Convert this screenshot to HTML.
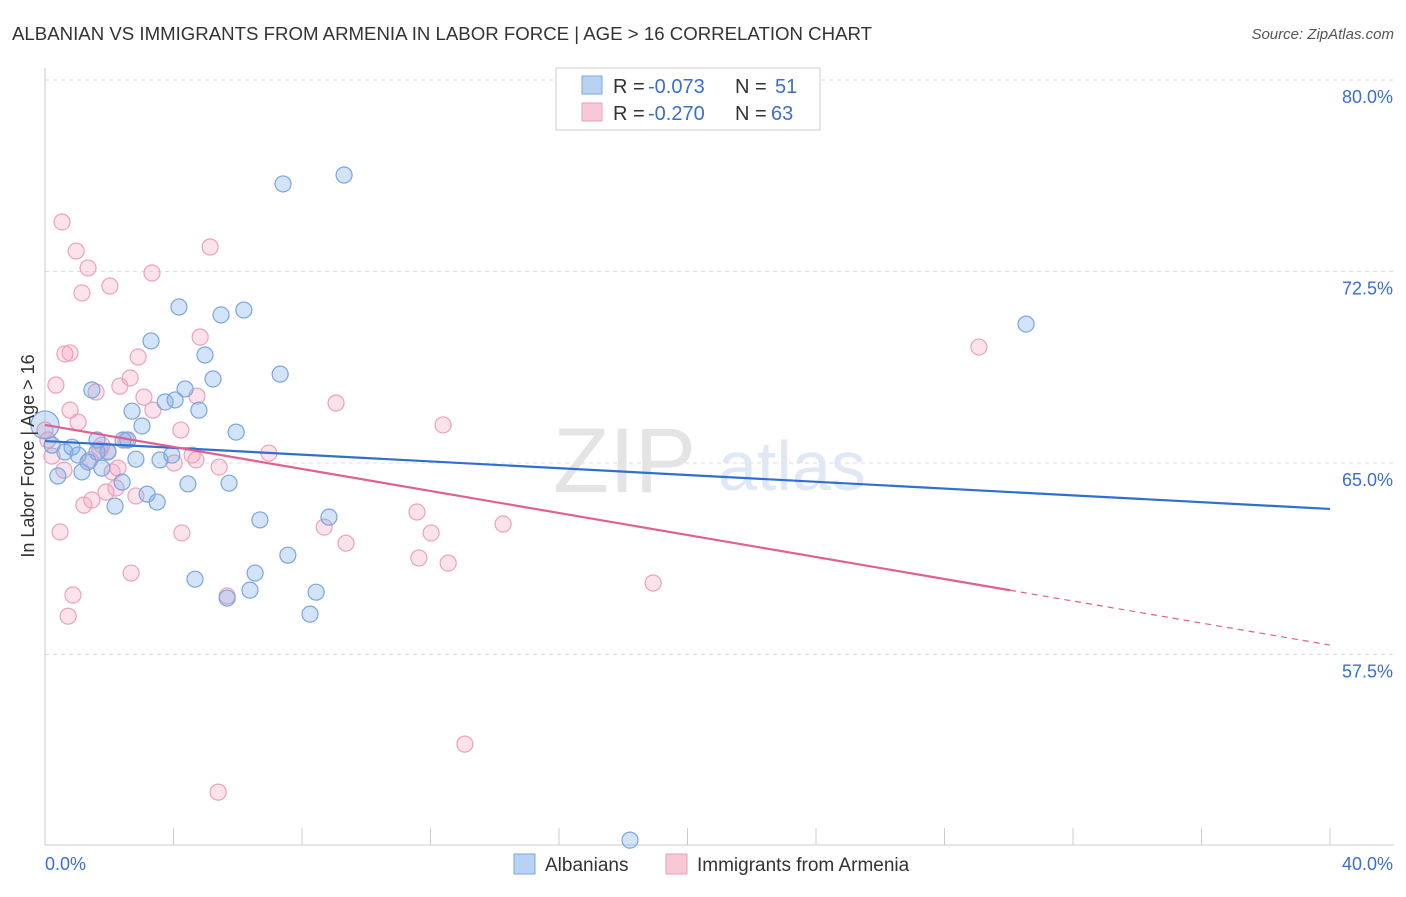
<!DOCTYPE html>
<html><head><meta charset="utf-8">
<style>
body{margin:0;background:#fff;font-family:"Liberation Sans",sans-serif;}
svg text{font-family:"Liberation Sans",sans-serif;}
</style></head>
<body>
<svg width="1406" height="892" viewBox="0 0 1406 892">
<text x="12" y="40" font-size="18" fill="#333" textLength="860" lengthAdjust="spacingAndGlyphs">ALBANIAN VS IMMIGRANTS FROM ARMENIA IN LABOR FORCE | AGE &gt; 16 CORRELATION CHART</text>
<text x="1394" y="39" font-size="15" fill="#555" font-style="italic" text-anchor="end">Source: ZipAtlas.com</text>
<g id="grid"></g>
<g id="axes"></g>
<text x="553" y="492" font-size="92" fill="#e4e4e4" font-family="Liberation Serif">ZIP</text>
<text x="718" y="490" font-size="70" fill="#dfe8f4">atlas</text>
<g id="pts"></g>
<g id="trend"></g>
<text transform="translate(34,456) rotate(-90)" font-size="18" fill="#333" text-anchor="middle">In Labor Force | Age &gt; 16</text>
<g>
<rect x="556" y="68" width="264" height="62" fill="#fff" stroke="#ccc"/>
<rect x="582" y="76" width="20" height="18" fill="#b8d2f4" stroke="#7aa6e0"/>
<rect x="582" y="103" width="20" height="18" fill="#f8c8d6" stroke="#eaa0b8"/>
<text x="613" y="93" font-size="20" fill="#333">R =</text>
<text x="648" y="93" font-size="20" fill="#3a6fd0">-0.073</text>
<text x="735" y="93" font-size="20" fill="#333">N =</text>
<text x="775" y="93" font-size="20" fill="#3a6fd0">51</text>
<text x="613" y="120" font-size="20" fill="#333">R =</text>
<text x="648" y="120" font-size="20" fill="#3a6fd0">-0.270</text>
<text x="735" y="120" font-size="20" fill="#333">N =</text>
<text x="771" y="120" font-size="20" fill="#3a6fd0">63</text>
</g>
<g>
<rect x="514" y="854" width="21" height="20" fill="#b8d2f4" stroke="#7aa6e0"/>
<text x="545" y="871" font-size="19" fill="#333">Albanians</text>
<rect x="666" y="854" width="21" height="20" fill="#f8c8d6" stroke="#eaa0b8"/>
<text x="697" y="871" font-size="19" fill="#333">Immigrants from Armenia</text>
</g>
</svg>
<script>
const blueX=[0,.22,.40,.62,.84,1.03,1.15,1.34,1.46,1.62,1.77,1.96,2.18,2.40,2.58,2.71,2.83,3.02,3.18,3.30,3.49,3.58,3.74,3.95,4.05,4.17,4.36,4.45,4.79,4.98,5.23,5.48,5.73,5.95,6.19,6.38,6.54,6.69,7.32,7.41,7.56,8.25,8.44,8.84,9.31,4.67,5.67,30.54,18.21,1.62,2.43];
const blueY=[66.49,65.70,64.49,65.43,65.62,65.31,64.65,65.04,67.86,65.90,64.80,65.43,63.31,64.25,65.90,67.03,65.15,66.45,63.78,69.78,63.47,65.12,67.39,65.31,67.47,71.11,67.90,64.18,67.07,69.23,68.29,70.80,64.21,66.21,70.99,60.02,60.69,62.77,68.48,75.93,61.39,59.08,59.94,62.88,76.28,60.45,59.71,70.44,50.23,65.43,65.90];
const pinkX=[0,.09,.22,.34,.47,.53,.62,.72,.78,.87,.97,1.03,1.15,1.21,1.34,1.40,1.46,1.59,1.71,1.90,1.96,2.02,2.09,2.21,2.33,2.52,2.65,2.68,2.83,2.90,3.08,3.33,3.36,4.02,4.23,4.26,4.58,4.73,4.83,5.14,5.42,5.39,5.67,6.97,8.69,9.06,9.37,11.58,11.64,12.02,12.39,12.55,13.07,14.26,18.93,29.07,.78,.59,1.77,2.27,4.70];
const pinkY=[66.29,65.90,65.27,68.05,62.30,74.44,69.27,59.00,69.31,59.83,73.30,66.60,71.66,63.35,72.64,65.12,63.55,67.78,65.51,63.86,65.47,71.93,64.65,64.02,68.01,65.90,68.33,60.69,63.71,69.15,67.58,72.44,67.07,65.00,66.29,62.26,65.31,67.62,69.93,73.46,64.84,52.11,59.79,65.39,62.49,67.35,61.86,63.08,61.28,62.26,66.49,61.08,53.99,62.61,60.30,69.54,67.07,64.72,65.70,64.80,65.12];
const yTicks=[80,72.5,65,57.5];
const yTickLabels=["80.0%","72.5%","65.0%","57.5%"];
const xTicks=[0,4,8,12,16,20,24,28,32,36,40];
const blueTrend=[65.86,63.20];
const pinkTrend=[66.49,57.87];
const pinkSolidEnd=30.04;
const NS="http://www.w3.org/2000/svg";
const sx=v=>45+v/40*1285;
const sy=v=>80+(80-v)/7.5*191.5;
function mk(tag,attrs,parent){const e=document.createElementNS(NS,tag);for(const k in attrs)e.setAttribute(k,attrs[k]);parent.appendChild(e);return e;}
const grid=document.getElementById('grid'),axes=document.getElementById('axes'),pts=document.getElementById('pts'),trend=document.getElementById('trend');
yTicks.forEach((t,i)=>{
 const l=mk('line',{x1:45,x2:1394,y1:sy(t),y2:sy(t),stroke:'#ddd','stroke-dasharray':'4,4'},grid);
 
 
 const tx=mk('text',{x:1393,y:sy(t)+23,'font-size':18,fill:'#3a6fd0','text-anchor':'end'},axes);
 tx.textContent=yTickLabels[i];
 
 
});
const ya=mk('line',{x1:45,x2:45,y1:68,y2:845,stroke:'#ccc'},axes);


const xa=mk('line',{x1:45,x2:1394,y1:845,y2:845,stroke:'#ccc'},axes);


xTicks.forEach(t=>{
 const l=mk('line',{x1:sx(t),x2:sx(t),y1:828,y2:845,stroke:'#ccc'},axes);
 
 
});
const x0=mk('text',{x:45,y:870,'font-size':18,fill:'#3a6fd0'},axes);x0.textContent='0.0%';


const x1=mk('text',{x:1393,y:870,'font-size':18,fill:'#3a6fd0','text-anchor':'end'},axes);x1.textContent='40.0%';


pinkX.forEach((x,i)=>{
 const c=mk('circle',{cx:sx(x),cy:sy(pinkY[i]),r:8,fill:'rgba(244,160,190,0.3)',stroke:'#eba2ba','stroke-width':1.2},pts);
 
 
});
blueX.forEach((x,i)=>{
 const c=mk('circle',{cx:sx(x),cy:sy(blueY[i]),r:i===0?14:8,fill:'rgba(130,175,235,0.35)',stroke:'#7aa6e0','stroke-width':1.2},pts);
 
 
});
const bt=mk('line',{x1:sx(0),y1:sy(blueTrend[0]),x2:sx(40),y2:sy(blueTrend[1]),stroke:'#2f6fd0','stroke-width':2.2},trend);


const pe=pinkTrend[0]+(pinkTrend[1]-pinkTrend[0])*pinkSolidEnd/40;
const pt=mk('line',{x1:sx(0),y1:sy(pinkTrend[0]),x2:sx(pinkSolidEnd),y2:sy(pe),stroke:'#e0608f','stroke-width':2.2},trend);


const pd=mk('line',{x1:sx(pinkSolidEnd),y1:sy(pe),x2:sx(40),y2:sy(pinkTrend[1]),stroke:'#e0608f','stroke-width':1.2,'stroke-dasharray':'6,5'},trend);


</script>
</body></html>
